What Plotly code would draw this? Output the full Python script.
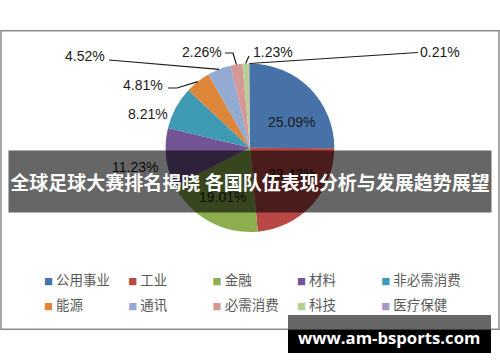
import math
import plotly.graph_objects as go

# ---------------- data ----------------
categories = ["公用事业", "工业", "金融", "材料", "非必需消费",
              "能源", "通讯", "必需消费", "科技", "医疗保健"]
values = [25.09, 23.42, 19.01, 11.23, 8.21, 4.81, 4.52, 2.26, 1.23, 0.21]
title_text = "全球足球大赛排名揭晓 各国队伍表现分析与发展趋势展望"
watermark_text = "www.am-bsports.com"

# ---------------- styling ----------------
colors = ["#4672A8", "#B84845", "#8DAE4F", "#735595", "#3F9AB3",
          "#DD863A", "#93AAD2", "#D59896", "#B6D092", "#A898C5"]

W, H = 500, 362
ML, MR, MT, MB = 0, 0, 0, 0
PW, PH = W - ML - MR, H - MT - MB


def px(x):
    return (x - ML) / PW


def py(y):
    return 1 - (y - MT) / PH


CX, CY, R = 250, 147.8, 84.3

# label text centres (pixels) and leader-line start points (pixels)
label_pos = [(291, 121.5), (291, 174), (222, 196.5), (134.5, 167), (147.5, 114),
             (143, 85), (85, 56), (201.5, 52.3), (272.8, 52.3), (440.3, 52.3)]
leader_start = {5: [(168, 88), (177, 88)],
                6: [(109, 60)],
                7: [(225, 53), (233, 53)],
                8: [(249, 56)],
                9: [(418, 52.5)]}

fig = go.Figure()
fig.add_trace(go.Pie(
    labels=categories, values=values, sort=False, direction="clockwise",
    rotation=0, marker=dict(colors=colors, line=dict(width=0)),
    textinfo="none", hoverinfo="label+percent", showlegend=False,
    domain=dict(x=[px(CX - R), px(CX + R)], y=[py(CY + R), py(CY - R)]),
))

# legend entries (one per category), five per legend row
for i, (cat, col) in enumerate(zip(categories, colors)):
    fig.add_trace(go.Scatter(
        x=[None], y=[None], mode="lines", line=dict(width=0, color=col),
        name=(f"<span style='font-size:9px;color:{col}'>■</span>"
              f"<span style='font-size:13.5px'> {cat}</span>"),
        legend="legend" if i < 5 else "legend2",
        legendwidth=90 if i % 5 == 4 else None,
        hoverinfo="skip"))

# slice mid angles from data
total = sum(values)
mids, cum = [], 0.0
for v in values:
    mids.append((cum + v / 2) / total * 2 * math.pi)
    cum += v
edge = [(CX + R * math.sin(a), CY - R * math.cos(a)) for a in mids]

shapes = [dict(type="rect", xref="paper", yref="paper",
               x0=px(1), x1=px(499), y0=py(329.3), y1=py(30.7),
               line=dict(color="#8a8a8a", width=1.5), fillcolor="rgba(0,0,0,0)")]
for i, pts in leader_start.items():
    allp = pts + [edge[i]]
    path = "M " + " L ".join(f"{px(x):.5f},{py(y):.5f}" for x, y in allp)
    shapes.append(dict(type="path", xref="paper", yref="paper", path=path,
                       line=dict(color="#1a1a1a", width=1.2)))
# watermark box
shapes.append(dict(type="rect", xref="paper", yref="paper", x0=px(288), x1=px(491),
                   y0=py(329.5), y1=py(315), fillcolor="#666666", line=dict(width=0)))
shapes.append(dict(type="rect", xref="paper", yref="paper", x0=px(288), x1=px(491),
                   y0=py(353), y1=py(329.5), fillcolor="#000000", line=dict(width=0)))

annotations = []
for v, (lx, ly) in zip(values, label_pos):
    annotations.append(dict(x=px(lx), y=py(ly), xref="paper", yref="paper",
                            text=f"{v:.2f}%", showarrow=False,
                            xanchor="center", yanchor="middle",
                            font=dict(family="Liberation Sans, Arial", size=14, color="#1a1a1a")))
annotations.append(dict(x=px(250), y=py(181.5), xref="paper", yref="paper",
                        text=f"<b>{title_text}</b>", showarrow=False,
                        xanchor="center", yanchor="middle",
                        width=482, height=61, borderpad=0,
                        bgcolor="rgba(0,0,0,0.6)",
                        font=dict(family="Noto Sans CJK SC", size=19, color="white")))
annotations.append(dict(x=px(389), y=py(337.5), xref="paper", yref="paper",
                        text=f"<b>{watermark_text}</b>", showarrow=False,
                        xanchor="center", yanchor="middle",
                        font=dict(family="Open Sans", size=16.7, color="white")))

legend_common = dict(orientation="h", xanchor="left", yanchor="top",
                     font=dict(family="Noto Sans CJK SC", size=13.5, color="#595959"),
                     entrywidth=39.3, entrywidthmode="pixels",
                     bgcolor="rgba(0,0,0,0)", traceorder="normal")

fig.update_layout(
    width=W, height=H, margin=dict(l=ML, r=MR, t=MT, b=MB, autoexpand=False),
    paper_bgcolor="white", plot_bgcolor="white",
    xaxis=dict(visible=False), yaxis=dict(visible=False),
    shapes=shapes, annotations=annotations,
    legend=dict(x=px(4), y=py(264.7), **legend_common),
    legend2=dict(x=px(4), y=py(289.7), **legend_common),
)

fig.write_html(
    "out.html",
    config=dict(displayModeBar=False),
    post_script="document.body.style.margin='0';document.body.style.padding='0';"
                "document.body.style.overflow='hidden';",
)
